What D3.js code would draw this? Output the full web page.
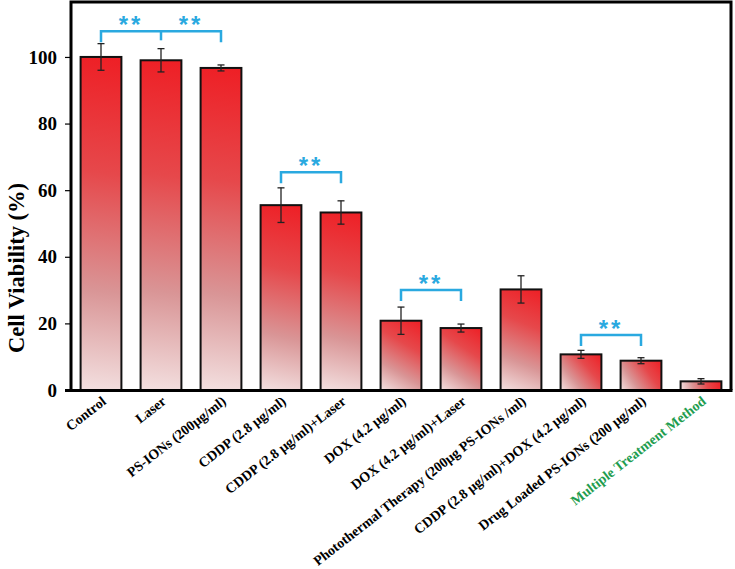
<!DOCTYPE html>
<html>
<head>
<meta charset="utf-8">
<script src="https://cdn.jsdelivr.net/npm/d3@7/dist/d3.min.js"></script>
<style>
  body { margin: 0; background: #fff; }
  svg { display: block; }
</style>
</head>
<body>
<div id="chart"></div>
<script>
// Chart data
//
var categories = [
    "Control",
    "Laser",
    "PS-IONs (200µg/ml)",
    "CDDP (2.8 µg/ml)",
    "CDDP (2.8 µg/ml)+Laser",
    "DOX (4.2 µg/ml)",
    "DOX (4.2 µg/ml)+Laser",
    "Photothermal Therapy (200µg PS-IONs /ml)",
    "CDDP (2.8 µg/ml)+DOX (4.2 µg/ml)",
    "Drug Loaded PS-IONs (200 µg/ml)",
    "Multiple Treatment Method"
];
var viability = [100, 99, 96.7, 55.5, 53.3, 20.8, 18.6, 30.2, 10.7, 8.8, 2.6];
var errors    = [4, 3.5, 0.9, 5.2, 3.5, 4.1, 1.2, 4.1, 1.2, 0.9, 0.8];
var yTicks    = [0, 20, 40, 60, 80, 100];

// Significance brackets: from, to, middle tick, level (in % units)
//
var brackets = [
    { from: 0, to: 2, mid: 1,    level: 107.7, stars: [0.5, 1.5] },
    { from: 3, to: 4, mid: null, level: 65.4,  stars: [3.5] },
    { from: 5, to: 6, mid: null, level: 30.0,  stars: [5.5] },
    { from: 8, to: 9, mid: null, level: 16.5,  stars: [8.5] }
];

// Set globals
//
var svg_width  = 735;
var svg_height = 569;
var x_box_min  = 71;
var x_box_max  = 731;
var y_box_min  = 2;
var y_box_max  = 390;
var serif      = "'Liberation Serif', 'Times New Roman', Times, serif";

var svg = d3.select("#chart").append("svg")
    .attr("width", svg_width)
    .attr("height", svg_height);

var x = d3.scaleBand()
    .domain(d3.range(categories.length))
    .range([x_box_min, x_box_max])
    .paddingInner(0.32)
    .paddingOuter(0.16);

var y = d3.scaleLinear()
    .domain([0, 116.5])
    .range([y_box_max, y_box_min]);

var defs = svg.append("defs");

// Bars with per-bar diagonal gradient
//
var bars = svg.append("g").attr("class", "bars");
viability.forEach(function(v, i) {
    let x0 = x(i);
    let x1 = x(i) + x.bandwidth();
    let yt = y(v);
    let yb = y(0);

    let grad = defs.append("linearGradient")
        .attr("id", "grad" + i)
        .attr("gradientUnits", "userSpaceOnUse")
        .attr("x1", x0)
        .attr("y1", yb)
        .attr("x2", x1)
        .attr("y2", yt);
    grad.append("stop").attr("offset", "0%").attr("stop-color", "#f3e0e0");
    grad.append("stop").attr("offset", "30%").attr("stop-color", "#d99596");
    grad.append("stop").attr("offset", "65%").attr("stop-color", "#e6484b");
    grad.append("stop").attr("offset", "100%").attr("stop-color", "#ee1f25");

    bars.append("rect")
        .attr("x", x0)
        .attr("y", yt)
        .attr("width", x.bandwidth())
        .attr("height", yb - yt)
        .attr("fill", "url(#grad" + i + ")")
        .attr("stroke", "#111")
        .attr("stroke-width", 2);
});

// Error bars
//
var errG = svg.append("g").attr("class", "errors")
    .attr("stroke", "#222")
    .attr("stroke-width", 1.3);
viability.forEach(function(v, i) {
    let cx = x(i) + x.bandwidth() / 2;
    errG.append("line")
        .attr("x1", cx).attr("x2", cx)
        .attr("y1", y(v + errors[i])).attr("y2", y(v - errors[i]));
    [v + errors[i], v - errors[i]].forEach(function(e) {
        errG.append("line")
            .attr("x1", cx - 3.5).attr("x2", cx + 3.5)
            .attr("y1", y(e)).attr("y2", y(e));
    });
});

// Frame
//
svg.append("path")
    .attr("d", `M${x_box_min},${y_box_max} V${y_box_min} H${x_box_max} V${y_box_max}`)
    .attr("fill", "none")
    .attr("stroke", "#000")
    .attr("stroke-width", 3);

// Left y axis
//
var yAxis = svg.append("g")
    .attr("transform", `translate(${x_box_min},0)`)
    .call(d3.axisLeft(y).tickValues(yTicks).tickSize(6).tickPadding(8));
yAxis.select(".domain").remove();
yAxis.selectAll(".tick line").attr("stroke", "#000").attr("stroke-width", 1.2);
yAxis.selectAll(".tick text")
    .style("font-family", serif)
    .style("font-weight", "bold")
    .style("font-size", "19px")
    .attr("fill", "#000");

// Bottom axis line
//
svg.append("line")
    .attr("x1", x_box_min - 6).attr("x2", x_box_max + 1.5)
    .attr("y1", y_box_max + 0.5).attr("y2", y_box_max + 0.5)
    .attr("stroke", "#000")
    .attr("stroke-width", 3);

// Y axis title
//
svg.append("text")
    .attr("transform", `translate(24,268) rotate(-90)`)
    .attr("text-anchor", "middle")
    .style("font-family", serif)
    .style("font-weight", "bold")
    .style("font-size", "22.5px")
    .attr("fill", "#000")
    .text("Cell Viability (%)");

// X category labels
//
svg.append("g").selectAll("text")
    .data(categories)
    .join("text")
    .attr("transform", (d, i) => `translate(${x(i) + x.bandwidth() / 2 + 6},${y_box_max + 13}) rotate(-38)`)
    .attr("text-anchor", "end")
    .style("font-family", serif)
    .style("font-weight", "bold")
    .style("font-size", "14px")
    .attr("fill", (d, i) => i === categories.length - 1 ? "#1f9d4f" : "#000")
    .text(d => d);

// Significance brackets
//
var cyan = "#2aa9e0";
var bG = svg.append("g").attr("class", "brackets");
var center = i => x(i) + x.bandwidth() / 2;
brackets.forEach(function(b) {
    let yl = y(b.level);
    let leg = 11;
    bG.append("path")
        .attr("d", `M${center(b.from)},${yl + leg} V${yl} H${center(b.to)} V${yl + leg}`)
        .attr("fill", "none")
        .attr("stroke", cyan)
        .attr("stroke-width", 2.5);
    if(b.mid !== null) {
        bG.append("line")
            .attr("x1", center(b.mid)).attr("x2", center(b.mid))
            .attr("y1", yl).attr("y2", yl + 9)
            .attr("stroke", cyan)
            .attr("stroke-width", 2.5);
    }
    b.stars.forEach(function(s) {
        let sx = x(Math.floor(s)) + x.bandwidth() / 2 + x.step() * (s - Math.floor(s));
        bG.append("text")
            .attr("x", sx)
            .attr("y", yl + 2)
            .attr("text-anchor", "middle")
            .style("font-family", "'Liberation Sans', Arial, sans-serif")
            .style("font-weight", "bold")
            .style("font-size", "24px")
            .style("letter-spacing", "3px")
            .attr("fill", cyan)
            .text("**");
    });
});
</script>
</body>
</html>
